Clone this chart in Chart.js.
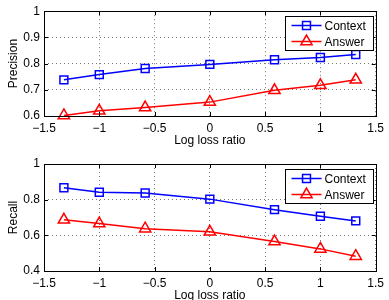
<!DOCTYPE html>
<html>
<head>
<meta charset="utf-8">
<script src="https://cdn.jsdelivr.net/npm/chart.js@4.4.1/dist/chart.umd.min.js"></script>
<style>
  html, body { margin: 0; padding: 0; background: #fff; overflow: hidden; }
  #wrap { position: relative; width: 389px; height: 300px; }
  canvas { position: absolute; left: 0; }
  #c1 { top: 0; }
  #c2 { top: 150px; }
</style>
</head>
<body>
<div id="wrap">
  <canvas id="c1" width="389" height="150"></canvas>
  <canvas id="c2" width="389" height="160"></canvas>
</div>
<script>
// log loss ratio (x positions)
const logRatio = [-1.32, -1, -0.585, 0, 0.585, 1, 1.32];

// precision
const precisionContext = [0.738, 0.758, 0.781, 0.797, 0.815, 0.823, 0.835];
const precisionAnswer = [0.602, 0.620, 0.632, 0.653, 0.698, 0.717, 0.738];

// recall
const recallContext = [0.867, 0.842, 0.837, 0.803, 0.744, 0.707, 0.681];
const recallAnswer = [0.687, 0.666, 0.637, 0.620, 0.565, 0.524, 0.483];

// tick labels
const xTickLabels = ['\u22121.5', '\u22121', '\u22120.5', '0', '0.5', '1', '1.5'];
const precisionTicks = ['0.6', '0.7', '0.8', '0.9', '1'];
const recallTicks = ['0.4', '0.6', '0.8', '1'];

const FONT = "'Liberation Sans', Arial, sans-serif";
Chart.defaults.font.family = FONT;
Chart.defaults.color = '#000';

function pts(ys) {
  return logRatio.map((x, i) => ({ x: x, y: ys[i] }));
}

// 枠線と内向きの目盛り、凡例を描く
const boxPlugin = {
  id: 'box',
  afterDatasetsDraw(chart) {
    const ctx = chart.ctx;
    const a = chart.chartArea;
    ctx.save();
    ctx.strokeStyle = '#000';
    ctx.lineWidth = 1;
    ctx.strokeRect(Math.round(a.left) + 0.5, Math.round(a.top) + 0.5,
      Math.round(a.right - a.left), Math.round(a.bottom - a.top));
    // inward ticks
    const tl = 4;
    ctx.beginPath();
    chart.scales.x.ticks.forEach(t => {
      const px = Math.round(chart.scales.x.getPixelForValue(t.value)) + 0.5;
      ctx.moveTo(px, a.bottom); ctx.lineTo(px, a.bottom - tl);
      ctx.moveTo(px, a.top); ctx.lineTo(px, a.top + tl);
    });
    chart.scales.y.ticks.forEach(t => {
      const py = Math.round(chart.scales.y.getPixelForValue(t.value)) + 0.5;
      ctx.moveTo(a.left, py); ctx.lineTo(a.left + tl, py);
      ctx.moveTo(a.right, py); ctx.lineTo(a.right - tl, py);
    });
    ctx.stroke();

    // legend
    const w = 88, h = 34;
    const bx = Math.round(a.right - 3 - w) + 0.5;
    const by = Math.round(a.top + 5) + 0.5;
    ctx.fillStyle = '#fff';
    ctx.fillRect(bx, by, w, h);
    ctx.strokeStyle = '#000';
    ctx.strokeRect(bx, by, w, h);
    ctx.font = '12px ' + FONT;
    ctx.textBaseline = 'middle';
    chart.data.datasets.forEach((ds, i) => {
      const ry = by + 9 + i * 16;
      ctx.strokeStyle = ds.borderColor;
      ctx.lineWidth = 1.5;
      ctx.beginPath();
      ctx.moveTo(bx + 6, ry); ctx.lineTo(bx + 36, ry);
      ctx.stroke();
      ctx.fillStyle = 'rgba(0,0,0,0)';
      Chart.helpers.drawPoint(ctx, {
        pointStyle: ds.pointStyle, radius: ds.pointRadius,
        borderWidth: ds.pointBorderWidth, rotation: 0
      }, bx + 21, ry);
      ctx.fillStyle = '#000';
      ctx.fillText(ds.label, bx + 39, ry + 1);
    });
    ctx.restore();
  }
};

function makeChart(id, yTitle, ctxData, ansData, yMin, yMax, yStep, yLabels, padTop, padBottom) {
  return new Chart(document.getElementById(id).getContext('2d'), {
    type: 'line',
    data: {
      datasets: [{
        label: 'Context',
        data: pts(ctxData),
        borderColor: '#0000ff',
        backgroundColor: 'rgba(0,0,0,0)',
        borderWidth: 1.5,
        pointStyle: 'rect',
        pointRadius: 5.6,
        pointBorderWidth: 1.5,
        pointBorderColor: '#0000ff',
        pointBackgroundColor: 'rgba(0,0,0,0)'
      }, {
        label: 'Answer',
        data: pts(ansData),
        borderColor: '#ff0000',
        backgroundColor: 'rgba(0,0,0,0)',
        borderWidth: 1.5,
        pointStyle: 'triangle',
        pointRadius: 6.5,
        pointBorderWidth: 1.5,
        pointBorderColor: '#ff0000',
        pointBackgroundColor: 'rgba(0,0,0,0)'
      }]
    },
    options: {
      responsive: false,
      animation: false,
      clip: false,
      layout: { padding: { top: padTop, right: 9, left: 0, bottom: padBottom } },
      plugins: { legend: { display: false }, tooltip: { enabled: false } },
      scales: {
        x: {
          type: 'linear',
          min: -1.5, max: 1.5,
          afterFit: s => { s.height = 34; },
          ticks: {
            stepSize: 0.5,
            padding: 5,
            font: { size: 12 },
            maxRotation: 0,
            callback: (v, i) => xTickLabels[i]
          },
          grid: { color: '#777', drawTicks: false, lineWidth: 1 },
          border: { display: false, dash: [1, 3] },
          title: { display: true, text: 'Log loss ratio', font: { size: 12 }, padding: { top: 0, bottom: 2 } }
        },
        y: {
          min: yMin, max: yMax,
          afterFit: s => { s.width = 44; },
          ticks: {
            stepSize: yStep,
            padding: 4,
            font: { size: 12 },
            callback: (v, i) => yLabels[i]
          },
          grid: { color: '#777', drawTicks: false, lineWidth: 1 },
          border: { display: false, dash: [1, 3] },
          title: { display: true, text: yTitle, font: { size: 12 }, padding: { top: 6, bottom: 0 } }
        }
      }
    },
    plugins: [boxPlugin]
  });
}

makeChart('c1', 'Precision', precisionContext, precisionAnswer, 0.6, 1, 0.1, precisionTicks, 8, 0);
makeChart('c2', 'Recall', recallContext, recallAnswer, 0.4, 1, 0.2, recallTicks, 14, 5);
</script>
</body>
</html>
